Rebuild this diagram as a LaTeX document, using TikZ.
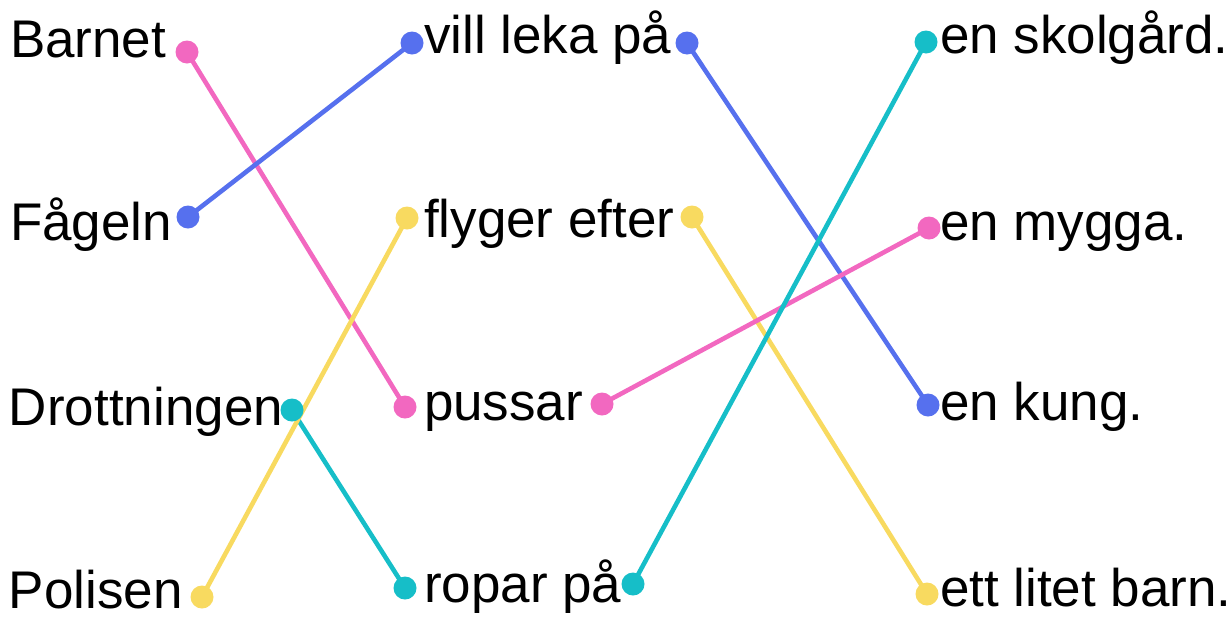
\documentclass[tikz,border=0pt]{standalone}
\usepackage{fontspec}
\setmainfont{Liberation Sans}
\definecolor{cpink}{RGB}{242,104,192}
\definecolor{cblue}{RGB}{86,112,238}
\definecolor{cteal}{RGB}{22,190,200}
\definecolor{cyell}{RGB}{248,218,96}
\tikzset{
  word/.style={anchor=base west, inner sep=0pt, outer sep=0pt, text=black, font=\fontsize{53}{60}\selectfont},
  dot/.style={circle, fill=#1, minimum size=23pt, inner sep=0pt, outer sep=0pt},
  link/.style={draw=#1, line width=4.6pt}
}
\begin{document}
\begin{tikzpicture}[x=1pt,y=-1pt]
\useasboundingbox (0,0) rectangle (1231,619);
% words
\node[word] (w1) at (10,57) {Barnet};
\node[word] (w2) at (10,240) {Fågeln};
\node[word] (w3) at (9,425) {Drottningen};
\node[word] (w4) at (9,608) {Polisen};
\node[word] (m1) at (424,53) {vill leka på};
\node[word] (m2) at (424,237) {flyger efter};
\node[word] (m3) at (424,420) {pussar};
\node[word] (m4) at (424,602) {ropar på};
\node[word] (r1) at (940,53) {en skolgård.};
\node[word] (r2) at (940,240) {en mygga.};
\node[word] (r3) at (940,420) {en kung.};
\node[word] (r4) at (940,606) {ett litet barn.};
% connector end points
\coordinate (a1) at (187,52);
\coordinate (a2) at (188,217);
\coordinate (a3) at (292,410);
\coordinate (a4) at (202,597);
\coordinate (b1) at (412,43);
\coordinate (b2) at (407,218);
\coordinate (b3) at (405,407);
\coordinate (b4) at (405,588);
\coordinate (c1) at (687,43);
\coordinate (c2) at (692,217);
\coordinate (c3) at (602,404);
\coordinate (c4) at (633,584);
\coordinate (e1) at (926,42);
\coordinate (e2) at (929,228);
\coordinate (e3) at (928,405);
\coordinate (e4) at (927,594);
% connectors
\draw[link=cpink] (a1) -- (b3);
\draw[link=cblue] (a2) -- (b1);
\draw[link=cteal] (a3) -- (b4);
\draw[link=cyell] (a4) -- (b2);
\draw[link=cblue] (c1) -- (e3);
\draw[link=cyell] (c2) -- (e4);
\draw[link=cpink] (c3) -- (e2);
\draw[link=cteal] (c4) -- (e1);
% dots
\node[dot=cpink] (da1) at (a1) {};
\node[dot=cblue] (da2) at (a2) {};
\node[dot=cteal] (da3) at (a3) {};
\node[dot=cyell] (da4) at (a4) {};
\node[dot=cblue] (db1) at (b1) {};
\node[dot=cyell] (db2) at (b2) {};
\node[dot=cpink] (db3) at (b3) {};
\node[dot=cteal] (db4) at (b4) {};
\node[dot=cblue] (dc1) at (c1) {};
\node[dot=cyell] (dc2) at (c2) {};
\node[dot=cpink] (dc3) at (c3) {};
\node[dot=cteal] (dc4) at (c4) {};
\node[dot=cteal] (de1) at (e1) {};
\node[dot=cpink] (de2) at (e2) {};
\node[dot=cblue] (de3) at (e3) {};
\node[dot=cyell] (de4) at (e4) {};
\end{tikzpicture}
\end{document}
